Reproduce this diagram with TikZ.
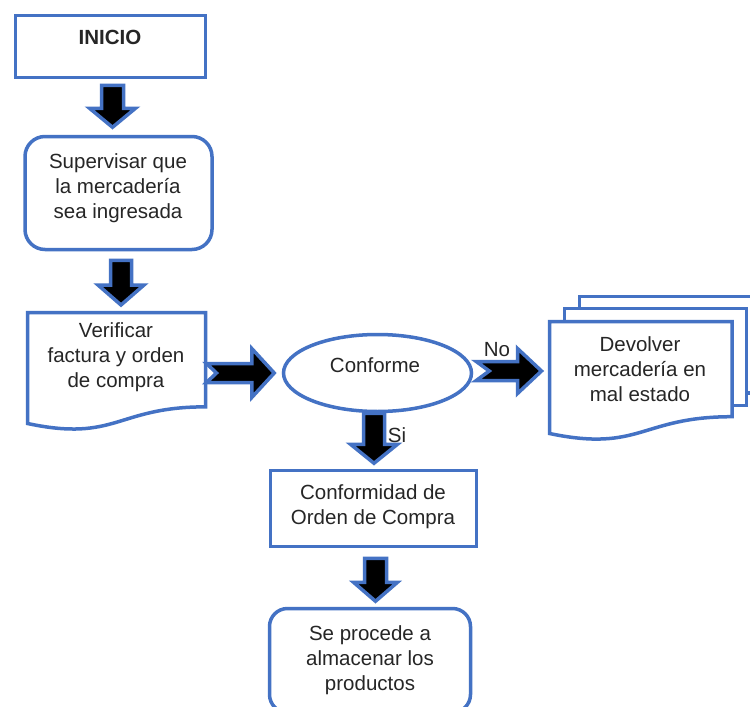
\documentclass[tikz,border=0pt]{standalone}
\usepackage{fontspec}
\setmainfont{Liberation Sans}
\usetikzlibrary{calc,shapes.geometric}
\definecolor{obl}{RGB}{68,114,196}
\tikzset{
  sbox/.style={draw=obl, line width=3.5pt, fill=white, inner sep=0pt},
  ghost/.style={inner sep=0pt, outer sep=0pt},
  sline/.style={draw=obl, line width=3.5pt, fill=white, line join=miter},
  barrow/.style={draw=obl, fill=black, line width=3.5pt, line join=miter},
  txt/.style={font=\fontsize{20.5}{25}\selectfont, text=black!85, align=center, inner sep=0pt}
}
\newcommand\vblock[5]{%
  \draw[barrow] let \p1=(#1), \p2=(#2) in
  ({\x1-#3pt},\y1) -- ({\x1-#3pt},{\y2+#5pt}) -- ({\x1-#4pt},{\y2+#5pt}) -- (\x1,\y2)
  -- ({\x1+#4pt},{\y2+#5pt}) -- ({\x1+#3pt},{\y2+#5pt}) -- ({\x1+#3pt},\y1) -- cycle;}
\newcommand\hblock[6]{%
  \draw[barrow] let \p1=(#1), \p2=(#2) in
  (\x1,{\y1+#3pt}) -- ({\x2-#5pt},{\y1+#3pt}) -- ({\x2-#5pt},{\y1+#4pt}) -- (\x2,\y1)
  -- ({\x2-#5pt},{\y1-#4pt}) -- ({\x2-#5pt},{\y1-#3pt}) -- (\x1,{\y1-#3pt}) -- ({\x1+#6pt},\y1) -- cycle;}
\newcommand\docpath[1]{%
  \draw[sline] let \p1=(#1.north west), \p2=(#1.south east) in
  (\p1) -- (\x2,\y1) -- (\x2,{\y1+0.85*(\y2-\y1)})
  .. controls ({0.5*(\x1+\x2)},{\y1+0.85*(\y2-\y1)}) and ({0.5*(\x1+\x2)},{\y1+1.17*(\y2-\y1)}) .. (\x1,\y2) -- cycle;}
\begin{document}
\begin{tikzpicture}[x=1pt,y=-1pt]
\clip (0,0) rectangle (750,707);
\fill[white] (0,0) rectangle (750,707);

% shapes
\node[sbox, minimum width=190pt, minimum height=62pt] (inicio) at (110.5,46.5) {};
\node[sbox, rounded corners=20pt, minimum width=187pt, minimum height=113pt] (sup) at (118.5,193) {};
\node[ghost, minimum width=178pt, minimum height=111pt] (verif) at (116.5,368) {};
\docpath{verif}
\node[sbox, ellipse, minimum width=188pt, minimum height=77pt] (conf) at (377.5,373) {};
\node[sbox, minimum width=206pt, minimum height=76pt] (confo) at (373.5,508.5) {};
\node[sbox, rounded corners=18pt, minimum width=201pt, minimum height=104pt] (sep) at (370,660.5) {};
\node[ghost, minimum width=182.5pt, minimum height=112pt] (devol) at (640.75,377.5) {};
\draw[sline] ($(devol.north west)+(30,-25)$) rectangle ($(devol.north east)+(30,71.5)$);
\draw[sline] ($(devol.north west)+(15,-12.8)$) rectangle ($(devol.north east)+(14.5,84)$);
\docpath{devol}

% block arrows
\vblock{$(inicio.south)+(2,6)$}{$(sup.north)+(0,-7.5)$}{11}{23}{19}
\vblock{$(sup.south)+(2.5,9)$}{$(verif.north)+(0,-7.5)$}{10.5}{23}{20}
\vblock{$(conf.south)+(-3.5,0)$}{$(confo.north)+(0,-5.5)$}{10.5}{23.5}{19}
\vblock{$(confo.south)+(2,10)$}{$(sep.north)+(0,-5.5)$}{11}{22}{19}
\hblock{$(verif.east)+(1,5)$}{$(conf.west)+(-7.5,0)$}{9.5}{24.5}{22.5}{10}
\hblock{$(conf.east)+(3,-2)$}{$(devol.west)+(-8,0)$}{9.5}{22.5}{24}{13}

% texts
\node[txt] (tInicio) at (110,37) {\bfseries INICIO};
\node[txt] (tSup) at (118,188) {Supervisar que\\la mercadería\\sea ingresada};
\node[txt] (tVerif) at (116,357) {Verificar\\factura y orden\\de compra};
\node[txt] (tConf) at (375,365) {Conforme};
\node[txt] (tDevol) at (640,369) {Devolver\\mercadería en\\mal estado};
\node[txt] (tConfo) at (373,506.5) {Conformidad de\\Orden de Compra};
\node[txt] (tSep) at (370,660) {Se procede a\\almacenar los\\productos};
\node[txt] (tNo) at (497,350) {No};
\node[txt] (tSi) at (397,435) {Si};
\end{tikzpicture}
\end{document}
